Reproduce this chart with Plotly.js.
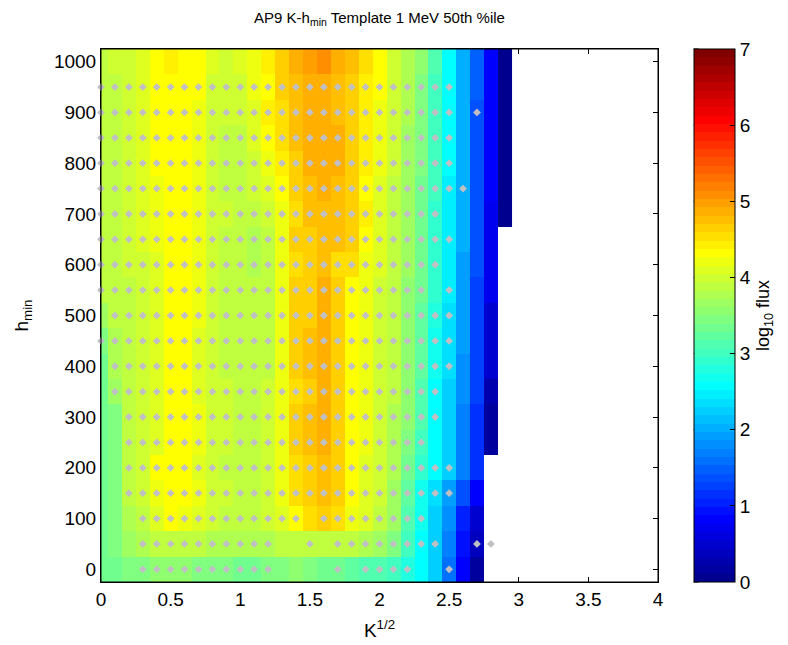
<!DOCTYPE html>
<html>
<head>
<meta charset="utf-8">
<script src="https://cdn.plot.ly/plotly-3.0.1.min.js"></script>
<style>html,body{margin:0;padding:0;background:#fff;}#chart{width:788px;height:645px;}</style>
</head>
<body>
<div id="chart"></div>
<script>
// K^(1/2) cell centres
const kVals = [0,0.1,0.2,0.3,0.4,0.5,0.6,0.7,0.8,0.9,1.0,1.1,1.2,1.3,1.4,1.5,1.6,1.7,1.8,1.9,2.0,2.1,2.2,2.3,2.4,2.5,2.6,2.7,2.8,2.9];
// h_min cell centres
const hVals = [0,50,100,150,200,250,300,350,400,450,500,550,600,650,700,750,800,850,900,950,1000];
// log10 flux per cell, one row per h_min (bottom to top)
const logFlux = [
 [3.38,3.38,3.40,3.48,3.52,3.52,3.52,3.48,3.45,3.42,3.38,3.38,3.42,3.45,3.52,3.45,3.38,3.31,3.24,3.17,3.10,3.00,2.80,2.60,2.20,1.60,0.85,0.15,null,null],
 [3.38,3.45,3.62,3.76,3.86,3.86,3.86,3.83,3.80,3.76,3.73,3.73,3.73,3.83,3.89,3.93,3.93,3.93,3.86,3.80,3.69,3.47,2.97,2.60,2.20,1.70,0.88,0.35,null,null],
 [3.38,3.45,3.80,3.93,4.13,4.27,4.24,4.10,4.00,3.93,3.89,3.89,3.96,4.13,4.27,4.53,4.61,4.55,4.24,4.07,3.93,3.62,3.15,2.65,2.28,1.75,1.08,0.50,null,null],
 [3.38,3.45,3.86,4.03,4.24,4.31,4.31,4.17,4.03,3.96,3.93,3.89,3.96,4.17,4.51,4.65,4.72,4.61,4.27,4.13,3.96,3.69,3.25,2.68,2.40,1.95,1.40,0.80,null,null],
 [3.38,3.40,3.89,3.96,4.27,4.31,4.31,4.10,4.00,3.93,3.89,3.86,3.96,4.20,4.58,4.68,4.79,4.61,4.31,4.13,3.96,3.73,3.35,2.90,2.58,2.20,1.65,1.15,null,null],
 [3.38,3.40,3.89,4.00,4.13,4.31,4.31,4.17,4.03,3.96,3.93,3.86,3.96,4.20,4.61,4.72,4.85,4.65,4.31,4.17,3.96,3.76,3.42,3.00,2.60,2.20,1.70,1.15,0.18,null],
 [3.38,3.40,3.89,4.00,4.10,4.31,4.31,4.17,4.03,3.96,3.93,3.86,3.96,4.17,4.61,4.72,4.85,4.68,4.31,4.17,4.00,3.80,3.52,3.12,2.60,2.20,1.72,1.15,0.20,null],
 [3.35,3.62,3.93,4.03,4.10,4.31,4.31,4.13,4.03,3.96,3.89,3.86,3.96,4.20,4.58,4.68,4.82,4.65,4.31,4.17,4.00,3.83,3.56,3.17,2.62,2.25,1.77,1.22,0.22,null],
 [3.38,3.76,3.89,4.00,4.10,4.31,4.31,4.13,4.00,3.93,3.86,3.86,3.93,4.17,4.65,4.72,4.82,4.65,4.31,4.20,4.00,3.83,3.52,3.22,2.65,2.35,1.84,1.22,0.50,null],
 [3.49,3.80,3.89,4.00,4.10,4.31,4.31,4.13,4.00,3.93,3.86,3.83,3.93,4.17,4.65,4.72,4.82,4.65,4.31,4.20,4.00,3.83,3.56,3.25,2.72,2.38,1.86,1.24,0.50,null],
 [3.62,3.83,3.93,4.00,4.10,4.31,4.31,4.17,4.00,3.93,3.86,3.83,3.93,4.17,4.61,4.68,4.82,4.65,4.31,4.20,4.00,3.83,3.56,3.27,2.80,2.40,1.88,1.27,0.50,null],
 [3.83,3.86,3.93,4.03,4.13,4.31,4.31,4.20,4.00,3.93,3.86,3.83,3.93,4.20,4.61,4.68,4.82,4.65,4.31,4.23,4.03,3.86,3.57,3.30,2.85,2.42,1.90,1.30,0.67,null],
 [3.89,3.86,3.96,4.03,4.13,4.31,4.31,4.17,4.00,3.93,3.86,3.76,3.89,4.17,4.58,4.68,4.79,4.58,4.53,4.23,4.07,3.86,3.62,3.35,2.90,2.45,1.95,1.35,0.67,null],
 [3.93,3.86,3.96,4.07,4.17,4.31,4.31,4.17,4.00,3.93,3.86,3.76,3.93,4.17,4.61,4.68,4.79,4.72,4.61,4.27,4.07,3.86,3.62,3.35,2.92,2.45,2.00,1.38,0.67,null],
 [3.93,3.86,3.96,4.07,4.24,4.31,4.31,4.20,4.03,3.96,3.89,3.86,4.00,4.20,4.58,4.72,4.79,4.73,4.68,4.41,4.07,3.86,3.62,3.35,2.95,2.48,2.00,1.40,0.72,0.05],
 [3.93,3.86,3.96,4.10,4.24,4.31,4.31,4.20,4.00,3.93,3.86,3.96,4.10,4.27,4.61,4.79,4.85,4.79,4.61,4.27,4.13,3.93,3.67,3.38,2.98,2.45,1.98,1.38,0.77,0.05],
 [3.93,3.86,3.98,4.13,4.27,4.31,4.31,4.24,4.00,3.93,3.86,4.03,4.20,4.48,4.68,4.82,4.85,4.85,4.68,4.41,4.17,3.96,3.69,3.40,3.00,2.56,2.00,1.40,0.77,0.08],
 [3.93,3.86,4.00,4.13,4.27,4.31,4.31,4.24,4.00,3.93,3.86,4.07,4.27,4.55,4.72,4.82,4.92,4.82,4.61,4.44,4.20,3.98,3.71,3.42,3.02,2.58,2.00,1.40,0.77,0.08],
 [3.93,3.86,4.00,4.13,4.27,4.31,4.31,4.24,4.03,3.96,4.00,4.13,4.41,4.58,4.72,4.83,4.85,4.79,4.65,4.44,4.20,4.00,3.73,3.45,3.04,2.58,2.01,1.42,0.80,0.10],
 [3.93,3.86,4.00,4.13,4.27,4.31,4.31,4.27,4.03,3.96,4.03,4.17,4.37,4.61,4.73,4.83,4.89,4.78,4.65,4.48,4.28,4.03,3.73,3.45,3.05,2.60,2.04,1.46,0.80,0.10],
 [3.93,3.98,4.00,4.08,4.27,4.43,4.31,4.31,4.08,3.98,4.05,4.20,4.43,4.68,4.89,4.93,5.08,4.92,4.75,4.58,4.28,4.03,3.77,3.52,3.11,2.62,2.04,1.50,0.85,0.10]
];
// grey sample points: one string per h_min row (bottom to top), one char per K^(1/2) column
const markerMask = [
 "000111111111100001011110010000",
 "000111111111100101111111100110",
 "000111111111111011111111000000",
 "001111111111111111111111110000",
 "001111111111111111111111110000",
 "001111111111111111111111000000",
 "001111111111111111111111100000",
 "011111111111111111111111100000",
 "011111111111111111111111110000",
 "111111111111111111111111110000",
 "011111111111111111111111110000",
 "111111111111111111111111010000",
 "111111111111111111111111100000",
 "111111111111111111111111110000",
 "111111111111111111111111100000",
 "111111111111111111111111111000",
 "111111111111111111111111110000",
 "111111111111111111111111110000",
 "111111111111111111111111110100",
 "111111111111111111111111110000",
 "000000000000000000000000000000"
];
const xTicks = [0,0.5,1,1.5,2,2.5,3,3.5,4];
const xTickText = ["0","0.5","1","1.5","2","2.5","3","3.5","4"];
const yTicks = [0,100,200,300,400,500,600,700,800,900,1000];
const cbTicks = [0,1,2,3,4,5,6,7];

// MATLAB jet(64), stepped
function jet(i){ // i = 1..64
  let r,g,b;
  if(i<=24) r=0; else if(i<=40) r=(i-24)/16; else if(i<=56) r=1; else r=(72-i)/16;
  if(i<=8) g=0; else if(i<=24) g=(i-8)/16; else if(i<=40) g=1; else if(i<=56) g=(56-i)/16; else g=0;
  if(i<=8) b=(i+8)/16; else if(i<=24) b=1; else if(i<=40) b=(40-i)/16; else b=0;
  return 'rgb('+Math.round(r*255)+','+Math.round(g*255)+','+Math.round(b*255)+')';
}
const cs = [];
for(let k=0;k<64;k++){ const c=jet(k+1); cs.push([k/64,c]); cs.push([(k+1)/64,c]); }

const mx=[], my=[];
markerMask.forEach((row,ri)=>{ for(let ci=0;ci<row.length;ci++){ if(row[ci]==='1'){ mx.push(kVals[ci]); my.push(hVals[ri]); } } });

const F = 'Liberation Sans, Arial, Helvetica, sans-serif';
const CBX = 1.064;
const heat = {
  type:'heatmap', x:kVals, y:hVals, z:logFlux, zmin:0, zmax:7, zsmooth:false,
  colorscale:cs, hoverinfo:'skip',
  colorbar:{x:CBX, xanchor:'left', xpad:0, y:0.5, yanchor:'middle', ypad:0, len:1, lenmode:'fraction',
    thickness:41, thicknessmode:'pixels', outlinewidth:1, outlinecolor:'#000',
    tickvals:cbTicks, ticks:'inside', ticklen:5, tickcolor:'#000', tickwidth:1,
    tickfont:{family:F, size:19, color:'#000'},
    title:{text:'log<sub>10</sub> flux', side:'right', font:{family:F, size:18, color:'#000'}}}
};
const pts = {
  type:'scatter', mode:'markers', x:mx, y:my, cliponaxis:false, hoverinfo:'skip',
  marker:{symbol:'diamond', size:6, color:'rgb(192,192,196)', line:{width:0}}
};
const shapes = [{type:'rect', xref:'paper', yref:'paper', x0:0, x1:1, y0:0, y1:1, line:{color:'#000', width:1}, layer:'above'}];
cbTicks.forEach(v=>{
  shapes.push({type:'line', xref:'paper', yref:'paper', x0:CBX, x1:CBX+5/560, y0:v/7, y1:v/7, line:{color:'#000', width:1}, layer:'above'});
});
const layout = {
  width:788, height:645, paper_bgcolor:'#fff', plot_bgcolor:'#fff', showlegend:false,
  margin:{l:101, r:127, t:49, b:63, pad:0},
  font:{family:F, color:'#000'},
  title:{text:'AP9 K-h<sub>min</sub> Template 1 MeV 50th %ile', x:0.5, xref:'paper', xanchor:'center',
    y:0.972, yref:'container', yanchor:'middle', font:{family:F, size:15, color:'#000'}},
  xaxis:{range:[0,4], tickvals:xTicks, ticktext:xTickText, ticks:'inside', ticklen:5, tickcolor:'#000',
    showline:true, linecolor:'#000', mirror:'ticks', showgrid:false, zeroline:false, layer:'below traces',
    tickfont:{family:F, size:19, color:'#000'},
    title:{text:'K<sup>1/2</sup>', font:{family:F, size:19, color:'#000'}, standoff:14}},
  yaxis:{range:[-25,1025], tickvals:yTicks, ticks:'inside', ticklen:5, tickcolor:'#000',
    showline:true, linecolor:'#000', mirror:'ticks', showgrid:false, zeroline:false, layer:'below traces',
    tickfont:{family:F, size:19, color:'#000'},
    title:{text:'h<sub>min</sub>', font:{family:F, size:19, color:'#000'}, standoff:20}},
  shapes:shapes
};
Plotly.newPlot('chart', [heat, pts], layout, {staticPlot:true, displayModeBar:false});
</script>
</body>
</html>
